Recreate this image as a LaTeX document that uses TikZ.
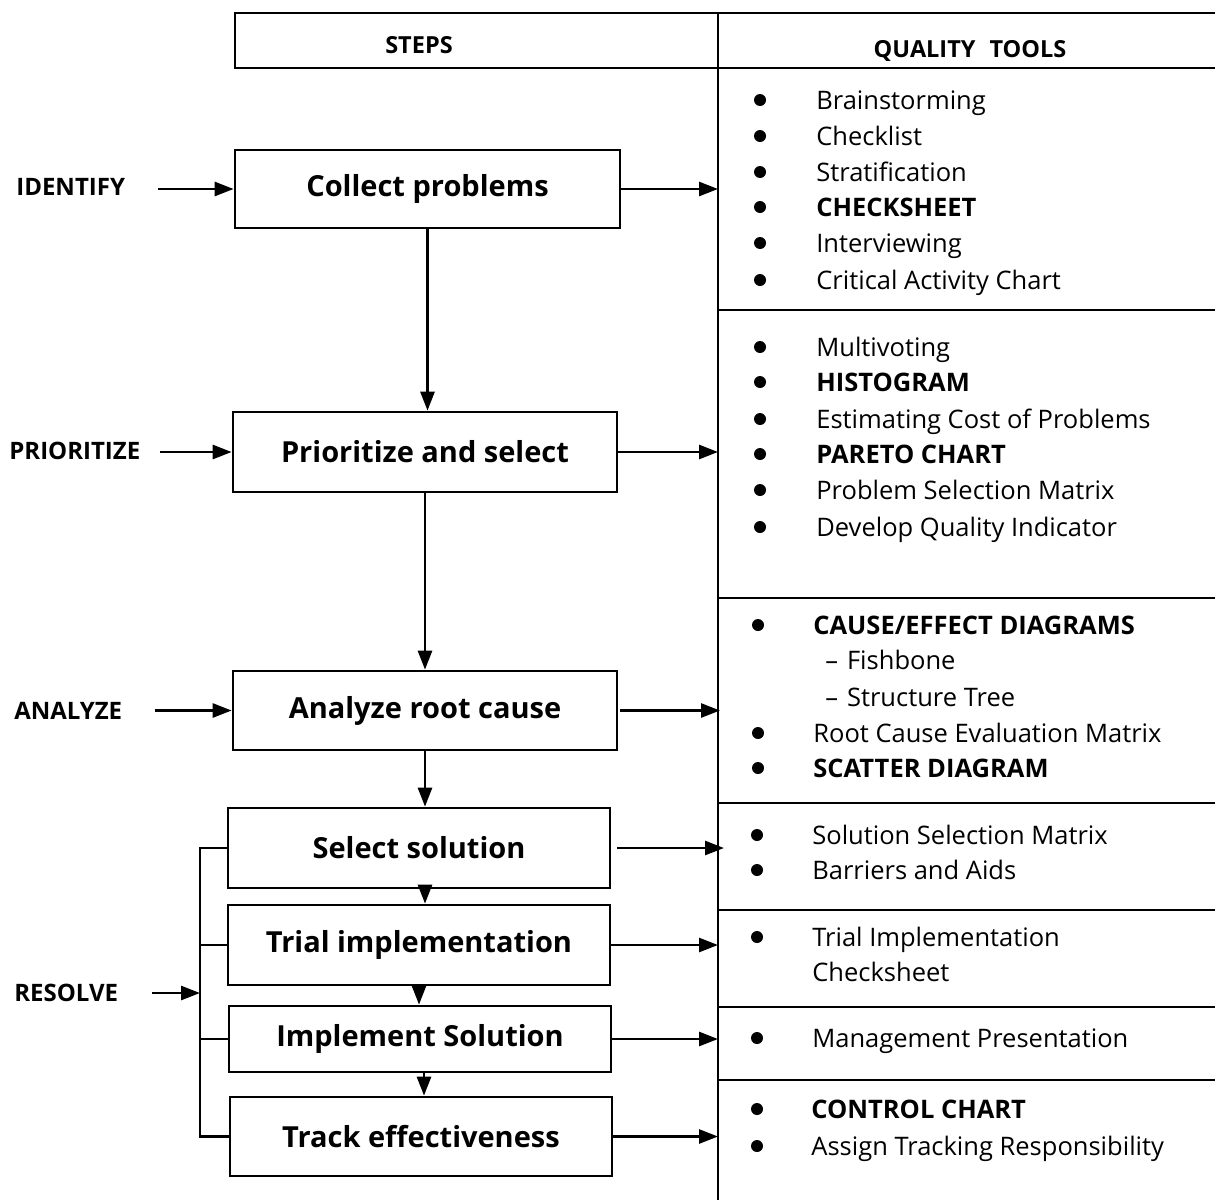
\documentclass[tikz,border=0pt]{standalone}
\usepackage{fontspec}
\setmainfont{Open Sans}
\usetikzlibrary{arrows.meta}
\begin{document}
\begin{tikzpicture}[x=1pt,y=-1pt,
  line width=2.7pt,
  stepbox/.style={draw, minimum width=384pt, minimum height=79pt, inner sep=0pt,
    font=\fontsize{29}{33}\selectfont\bfseries},
  phase/.style={anchor=base west, yshift=-8pt, inner sep=0pt, font=\fontsize{24}{28}\selectfont\bfseries},
  head/.style={anchor=base, yshift=-8.5pt, inner sep=0pt, font=\fontsize{23.5}{28}\selectfont\bfseries},
  arr/.style={-{Triangle[length=19pt,width=14pt]}},
  dot/.style={circle, fill, inner sep=0pt, minimum size=12pt},
  item/.style={anchor=base west, yshift=-9pt, inner sep=0pt, font=\fontsize{25.5}{30}\selectfont},
  itemb/.style={item, font=\fontsize{25.5}{30}\selectfont\bfseries},
]
\useasboundingbox (0,0) rectangle (1215,1202);

% table frame: header row and the quality-tools column
\draw (1215,13) -- (235,13) -- (235,68) -- (1215,68);
\draw (718,13) -- (718,1200);
\foreach \yy in {310,598,803,910,1007,1080}
  \draw (718,\yy) -- (1215,\yy);
\node[head] (steps) at (419,45) {STEPS};
\node[head] (tools) at (970,49) {QUALITY\hspace{14pt}TOOLS};

% process steps
\node[stepbox, minimum width=385pt, minimum height=78pt] (b1) at (427.5,189) {Collect problems};
\node[stepbox, minimum height=80pt] (b2) at (425,452) {Prioritize and select};
\node[stepbox] (b3) at (425,710.5) {Analyze root cause};
\node[stepbox, minimum width=382pt, minimum height=80pt] (b4) at (419,848) {Select solution};
\node[stepbox, minimum width=382pt, minimum height=80pt] (b5) at (419,945) {Trial implementation};
\node[stepbox, minimum width=382pt, minimum height=66pt] (b6) at (420,1039) {Implement Solution};
\node[stepbox, minimum width=382pt] (b7) at (421,1136.5) {Track effectiveness};

% phase labels
\node[phase] (lid) at (15,187) {IDENTIFY};
\node[phase] (lpr) at (8,451) {PRIORITIZE};
\node[phase] (lan) at (13,711) {ANALYZE};
\node[phase] (lre) at (13,993) {RESOLVE};
\coordinate (s1) at (158,189);
\coordinate (s2) at (160,452);
\coordinate (s3) at (155,710.5);
\coordinate (s4) at (152,993);
\coordinate (rbar) at (200,993);
\coordinate (col) at (718,0);

% phase arrows into the steps
\draw[arr] (s1) -- (s1 -| b1.west);
\draw[arr] (s2) -- (s2 -| b2.west);
\draw[arr] (s3) -- (s3 -| b3.west);
\draw[arr] (s4) -- (rbar);

% resolve bracket
\draw (b4.west) -- (rbar |- b4.west) -- (rbar |- b7.west) -- (b7.west);
\draw (rbar |- b5.west) -- (b5.west);
\draw (rbar |- b6.west) -- (b6.west);

% flow between steps
\draw[arr] (b1.south) -- (b1.south |- b2.north);
\draw[arr] (b2.south) -- (b2.south |- b3.north);
\draw[arr] (b3.south) -- (b3.south |- b4.north);
\draw[arr] ([xshift=6pt]b4.south) -- ([xshift=6pt]b4.south |- b5.north);
\draw[arr] (b5.south) -- (b5.south |- b6.north);
\draw[arr] ([xshift=4pt]b6.south) -- ([xshift=4pt]b6.south |- b7.north);

% steps to their tools
\draw[arr] (b1.east) -- (b1.east -| col);
\draw[arr] (b2.east) -- (b2.east -| col);
\draw[arr] ([xshift=2pt]b3.east) -- ([xshift=2pt]b3.east -| col);
\draw[arr] ([xshift=6pt]b4.east) -- ([xshift=6pt]b4.east -| col);
\draw[arr] (b5.east) -- (b5.east -| col);
\draw[arr] (b6.east) -- (b6.east -| col);
\draw[arr] (b7.east) -- (b7.east -| col);

% identify tools
\node[dot] (d1) at (760,100) {};  \node[item] (t1) at (815,100) {Brainstorming};
\node[dot] (d2) at (760,136) {};  \node[item] (t2) at (815,136) {Checklist};
\node[dot] (d3) at (760,172) {};  \node[item] (t3) at (815,172) {Stratification};
\node[dot] (d4) at (760,207) {};  \node[itemb] (t4) at (815,207) {CHECKSHEET};
\node[dot] (d5) at (760,243) {};  \node[item] (t5) at (815,243) {Interviewing};
\node[dot] (d6) at (760,280) {};  \node[item] (t6) at (815,280) {Critical Activity Chart};

% prioritize tools
\node[dot] (d7) at (760,347) {};  \node[item] (t7) at (815,347) {Multivoting};
\node[dot] (d8) at (760,382) {};  \node[itemb] (t8) at (815,382) {HISTOGRAM};
\node[dot] (d9) at (760,419) {};  \node[item] (t9) at (815,419) {Estimating Cost of Problems};
\node[dot] (d10) at (760,454) {}; \node[itemb] (t10) at (815,454) {PARETO CHART};
\node[dot] (d11) at (760,490) {}; \node[item] (t11) at (815,490) {Problem Selection Matrix};
\node[dot] (d12) at (760,527) {}; \node[item] (t12) at (815,527) {Develop Quality Indicator};

% analyze tools
\node[dot] (d13) at (758,625) {}; \node[itemb] (t13) at (812,625) {CAUSE/EFFECT DIAGRAMS};
\node[item] (t14) at (824,660) {–\hspace{9pt}Fishbone};
\node[item] (t15) at (824,697) {–\hspace{9pt}Structure Tree};
\node[dot] (d16) at (758,733) {}; \node[item] (t16) at (812,733) {Root Cause Evaluation Matrix};
\node[dot] (d17) at (758,768) {}; \node[itemb] (t17) at (812,768) {SCATTER DIAGRAM};

% resolve tools
\node[dot] (d18) at (757,835) {}; \node[item] (t18) at (811,835) {Solution Selection Matrix};
\node[dot] (d19) at (757,870) {}; \node[item] (t19) at (811,870) {Barriers and Aids};
\node[dot] (d20) at (757,937) {}; \node[item] (t20) at (811,937) {Trial Implementation};
\node[item] (t21) at (811,972) {Checksheet};
\node[dot] (d22) at (757,1038) {}; \node[item] (t22) at (811,1038) {Management Presentation};
\node[dot] (d23) at (757,1109) {}; \node[itemb] (t23) at (810,1109) {CONTROL CHART};
\node[dot] (d24) at (757,1146) {}; \node[item] (t24) at (810,1146) {Assign Tracking Responsibility};
\end{tikzpicture}
\end{document}
